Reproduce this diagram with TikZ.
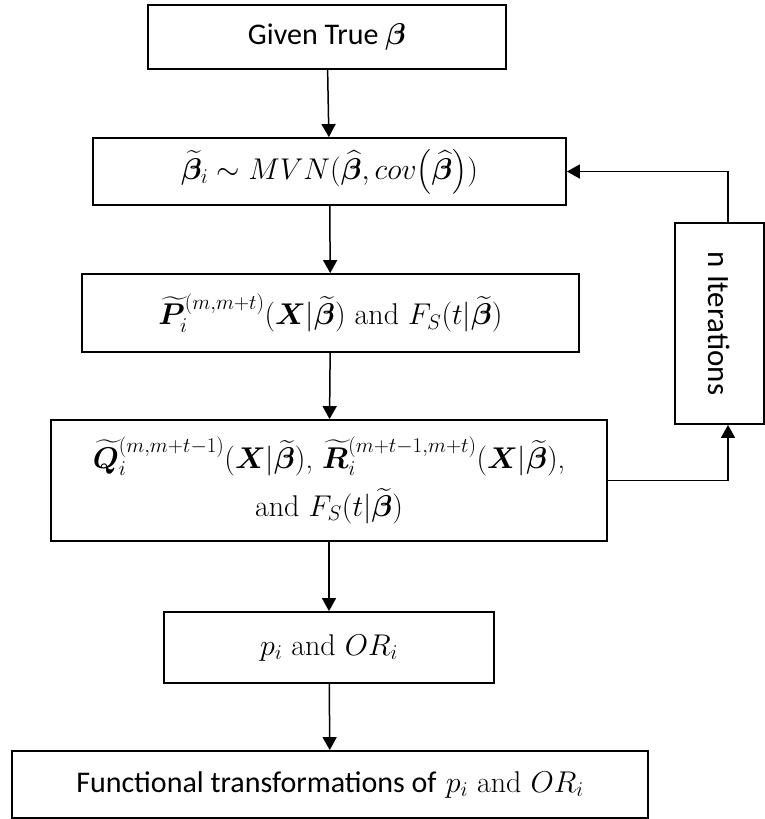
\documentclass[tikz,border=0pt]{standalone}
\usepackage{fix-cm}
\usepackage{amsmath}
\usepackage{bm}
\usepackage{fontspec}
\setsansfont{Carlito}
\usetikzlibrary{arrows.meta}

\tikzset{
  flowbox/.style={draw,line width=1.8pt,inner sep=0pt,align=center},
  flowarrow/.style={line width=1.5pt,-{Triangle[width=14pt,length=13pt]}}
}
\newcommand{\tbeta}{\widetilde{\bm\beta}}
\newcommand{\hbeta}{\widehat{\bm\beta}}

\begin{document}
\begin{tikzpicture}[x=1pt,y=-1pt,font=\fontsize{30}{48}\selectfont]
\useasboundingbox (0,0) rectangle (765,819);

% simulation steps
\node[flowbox,minimum width=358,minimum height=64] (given) at (327,37) {\sffamily\fontsize{30}{36}\selectfont Given True $\bm\beta$};
\node[flowbox,minimum width=473,minimum height=67] (draw) at (329.5,171.5) {$\tbeta_i \sim MVN(\hbeta,cov\bigl(\hbeta\bigr))$};
\node[flowbox,minimum width=497,minimum height=78] (trans) at (330.5,313) {$\widetilde{\bm P}_i^{(m,m+t)}(\bm X|\tbeta)$ and $F_S(t|\tbeta)$};
\node[flowbox,minimum width=556,minimum height=121] (cond) at (329,480.5) {$\widetilde{\bm Q}_i^{(m,m+t-1)}(\bm X|\tbeta)$, $\widetilde{\bm R}_i^{(m+t-1,m+t)}(\bm X|\tbeta)$,\\ and $F_S(t|\tbeta)$};
\node[flowbox,minimum width=330,minimum height=71] (prob) at (329,647.5) {$p_i$ and $OR_i$};
\node[flowbox,minimum width=636,minimum height=67] (func) at (330,784.5) {{\sffamily\fontsize{30}{36}\selectfont Functional transformations of} $p_i$ and $OR_i$};

% loop
\node[flowbox,minimum width=89,minimum height=201] (iter) at (719.5,323.5) {};
\node[rotate=-90,font=\fontsize{31}{36}\sffamily] at (iter.center) {n Iterations};

\draw[flowarrow] (given) -- (draw);
\draw[flowarrow] (draw) -- (trans);
\draw[flowarrow] (trans) -- (cond);
\draw[flowarrow] (cond) -- (prob);
\draw[flowarrow] (prob) -- (func);
\draw[flowarrow] (cond.east) -| ([xshift=8.5]iter.south);
\draw[flowarrow] ([xshift=8.5]iter.north) |- (draw.east);

\end{tikzpicture}
\end{document}
